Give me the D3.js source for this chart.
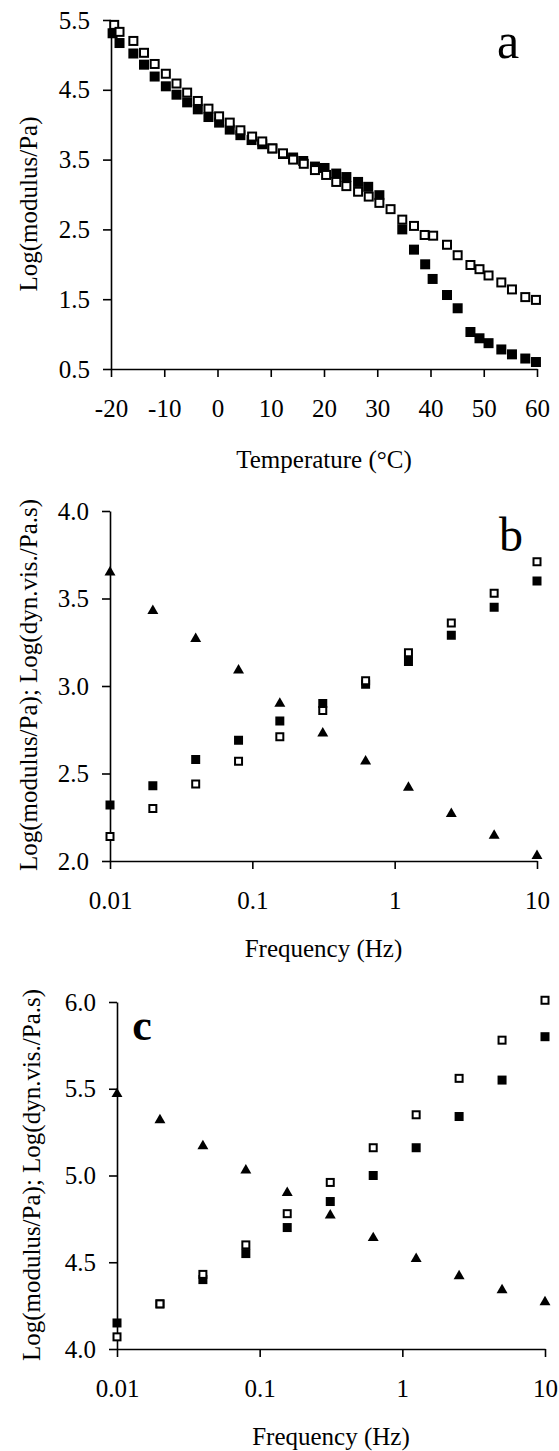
<!DOCTYPE html>
<html lang="en">
<head>
  <meta charset="UTF-8">
  <title>Modulus vs temperature and frequency</title>
  <script src="https://d3js.org/d3.v7.min.js"></script>
  <style>
    body {
      margin: 0;
      background: white;
    }
    svg text {
      font-family: "Liberation Serif", "Times New Roman", serif;
      fill: black;
    }
  </style>
</head>
<body>
  <svg width="559" height="1451"></svg>

  <script>
    // panel a: temperature sweep
    const tempOpen = [-19.4, -18.4, -15.8, -13.8, -11.8, -9.7, -7.7, -5.7, -3.7, -1.7, 0.3, 2.3, 4.3, 6.5, 8.4, 10.3,
      12.3, 14.2, 16.2, 18.3, 20.4, 22.3, 24.2, 26.4, 28.4, 30.4, 32.5, 34.7, 36.9, 38.9, 40.5, 43.1, 45.1,
      47.5, 49.2, 50.9, 53.3, 55.3, 57.8, 59.8];
    const modOpen = [5.43, 5.33, 5.20, 5.03, 4.87, 4.73, 4.59, 4.46, 4.34, 4.23, 4.12, 4.03, 3.92, 3.83, 3.76, 3.66,
      3.59, 3.50, 3.44, 3.35, 3.28, 3.18, 3.12, 3.04, 2.97, 2.88, 2.79, 2.64, 2.55, 2.42, 2.41, 2.28, 2.13,
      1.99, 1.93, 1.84, 1.74, 1.64, 1.53, 1.49];
    const tempFilled = [-19.7, -18.4, -15.8, -13.8, -11.8, -9.7, -7.7, -5.7, -3.7, -1.7, 0.3, 2.3, 4.3, 6.4, 8.4, 10.3,
      12.3, 14.2, 16.1, 18.3, 20.1, 22.3, 24.2, 26.4, 28.3, 30.4, 34.7, 36.9, 39.0, 40.4, 43.1, 45.1,
      47.5, 49.2, 50.9, 53.3, 55.3, 57.8, 59.8];
    const modFilled = [5.31, 5.17, 5.02, 4.86, 4.69, 4.55, 4.43, 4.32, 4.22, 4.11, 4.03, 3.93, 3.85, 3.78, 3.72, 3.66,
      3.58, 3.53, 3.48, 3.40, 3.38, 3.30, 3.25, 3.18, 3.11, 2.99, 2.50, 2.21, 2.00, 1.79, 1.56, 1.37,
      1.03, 0.94, 0.87, 0.78, 0.71, 0.65, 0.60];

    // panels b and c: frequency sweeps
    const freq = [0.01, 0.02, 0.04, 0.08, 0.156, 0.3125, 0.625, 1.25, 2.5, 5, 10];
    const triB = [3.65, 3.43, 3.27, 3.09, 2.90, 2.73, 2.57, 2.42, 2.27, 2.145, 2.03];
    const filledB = [2.32, 2.43, 2.58, 2.69, 2.80, 2.90, 3.01, 3.14, 3.29, 3.45, 3.60];
    const openB = [2.14, 2.30, 2.44, 2.57, 2.71, 2.86, 3.03, 3.19, 3.36, 3.53, 3.71];
    const triC = [5.47, 5.32, 5.17, 5.03, 4.90, 4.77, 4.64, 4.52, 4.42, 4.34, 4.27];
    const filledC = [4.15, 4.26, 4.40, 4.55, 4.70, 4.85, 5.00, 5.16, 5.34, 5.55, 5.80];
    const openC = [4.07, 4.26, 4.43, 4.60, 4.78, 4.96, 5.16, 5.35, 5.56, 5.78, 6.01];

    // tick labels
    const tempTicks = [-20, -10, 0, 10, 20, 30, 40, 50, 60];
    const modTicksA = [0.5, 1.5, 2.5, 3.5, 4.5, 5.5];
    const freqTicks = [0.01, 0.1, 1, 10];
    const freqLabels = ["0.01", "0.1", "1", "10"];
    const modTicksB = [2.0, 2.5, 3.0, 3.5, 4.0];
    const modTicksC = [4.0, 4.5, 5.0, 5.5, 6.0];

    const svg = d3.select("svg");
    const tickFont = 25, titleFont = 25;

    function drawPanel(p) {
      const g = svg.append("g");

      const xAxis = d3.axisBottom(p.x)
        .tickValues(p.xTicks)
        .tickSize(8)
        .tickSizeOuter(0)
        .tickFormat(p.xFormat);
      const yAxis = d3.axisLeft(p.y)
        .tickValues(p.yTicks)
        .tickSize(8)
        .tickSizeOuter(0)
        .tickPadding(13)
        .tickFormat(d3.format(".1f"));

      const xg = g.append("g")
        .attr("transform", `translate(0,${p.y.range()[0]})`)
        .call(xAxis);
      xg.selectAll("text")
        .attr("dy", null)
        .attr("y", 48)
        .style("font-size", tickFont + "px");

      const yg = g.append("g")
        .attr("transform", `translate(${p.x.range()[0]},0)`)
        .call(yAxis);
      yg.selectAll("text")
        .style("font-size", tickFont + "px");

      g.selectAll(".domain, .tick line")
        .attr("stroke", "black")
        .attr("stroke-width", 1.6);

      // markers
      p.series.forEach(s => {
        const pts = s.xs.map((v, i) => [v, s.ys[i]]);
        if (s.shape === "tri") {
          const sym = d3.symbol().type(d3.symbolTriangle).size(52);
          g.selectAll(null).data(pts).enter().append("path")
            .attr("d", sym)
            .attr("transform", d => `translate(${p.x(d[0])},${p.y(d[1])})`)
            .attr("fill", "black");
        } else {
          const open = s.shape === "open";
          const size = open ? p.sq - 2 : p.sq;
          g.selectAll(null).data(pts).enter().append("rect")
            .attr("x", d => p.x(d[0]) - size / 2)
            .attr("y", d => p.y(d[1]) - size / 2)
            .attr("width", size)
            .attr("height", size)
            .attr("fill", open ? "white" : "black")
            .attr("stroke", open ? "black" : "none")
            .attr("stroke-width", 2);
        }
      });

      g.append("text")
        .attr("x", (p.x.range()[0] + p.x.range()[1]) / 2)
        .attr("y", p.xTitleY)
        .attr("text-anchor", "middle")
        .style("font-size", titleFont + "px")
        .text(p.xTitle);

      g.append("text")
        .attr("transform", `translate(${p.yTitleX},${p.yTitleY}) rotate(-90)`)
        .attr("text-anchor", "middle")
        .style("font-size", titleFont + "px")
        .text(p.yTitle);

      g.append("text")
        .attr("x", p.tag[0])
        .attr("y", p.tag[1])
        .attr("text-anchor", "middle")
        .style("font-size", p.tagSize + "px")
        .style("font-weight", p.tagBold ? "bold" : "normal")
        .text(p.tagText);
    }

    drawPanel({
      x: d3.scaleLinear().domain([-20, 60]).range([111, 537]),
      y: d3.scaleLinear().domain([0.5, 5.5]).range([369, 20]),
      xTicks: tempTicks,
      yTicks: modTicksA,
      xFormat: d => String(d),
      sq: 10,
      series: [
        {shape: "filled", xs: tempFilled, ys: modFilled},
        {shape: "open", xs: tempOpen, ys: modOpen}
      ],
      xTitle: "Temperature (°C)",
      xTitleY: 468,
      yTitle: "Log(modulus/Pa)",
      yTitleX: 37,
      yTitleY: 204,
      tag: [508, 58], tagText: "a", tagSize: 50, tagBold: false
    });

    drawPanel({
      x: d3.scaleLog().domain([0.01, 10]).range([110, 537]),
      y: d3.scaleLinear().domain([2, 4]).range([861, 511]),
      xTicks: freqTicks,
      yTicks: modTicksB,
      xFormat: (d, i) => freqLabels[i],
      sq: 9,
      series: [
        {shape: "filled", xs: freq, ys: filledB},
        {shape: "open", xs: freq, ys: openB},
        {shape: "tri", xs: freq, ys: triB}
      ],
      xTitle: "Frequency (Hz)",
      xTitleY: 957,
      yTitle: "Log(modulus/Pa); Log(dyn.vis./Pa.s)",
      yTitleX: 37,
      yTitleY: 685,
      tag: [511, 551], tagText: "b", tagSize: 48, tagBold: false
    });

    drawPanel({
      x: d3.scaleLog().domain([0.01, 10]).range([117, 545]),
      y: d3.scaleLinear().domain([4, 6]).range([1349, 1002]),
      xTicks: freqTicks,
      yTicks: modTicksC,
      xFormat: (d, i) => freqLabels[i],
      sq: 9,
      series: [
        {shape: "filled", xs: freq, ys: filledC},
        {shape: "open", xs: freq, ys: openC},
        {shape: "tri", xs: freq, ys: triC}
      ],
      xTitle: "Frequency (Hz)",
      xTitleY: 1445,
      yTitle: "Log(modulus/Pa); Log(dyn.vis./Pa.s)",
      yTitleX: 40,
      yTitleY: 1175,
      tag: [142, 1040], tagText: "c", tagSize: 44, tagBold: true
    });
  </script>
</body>
</html>
